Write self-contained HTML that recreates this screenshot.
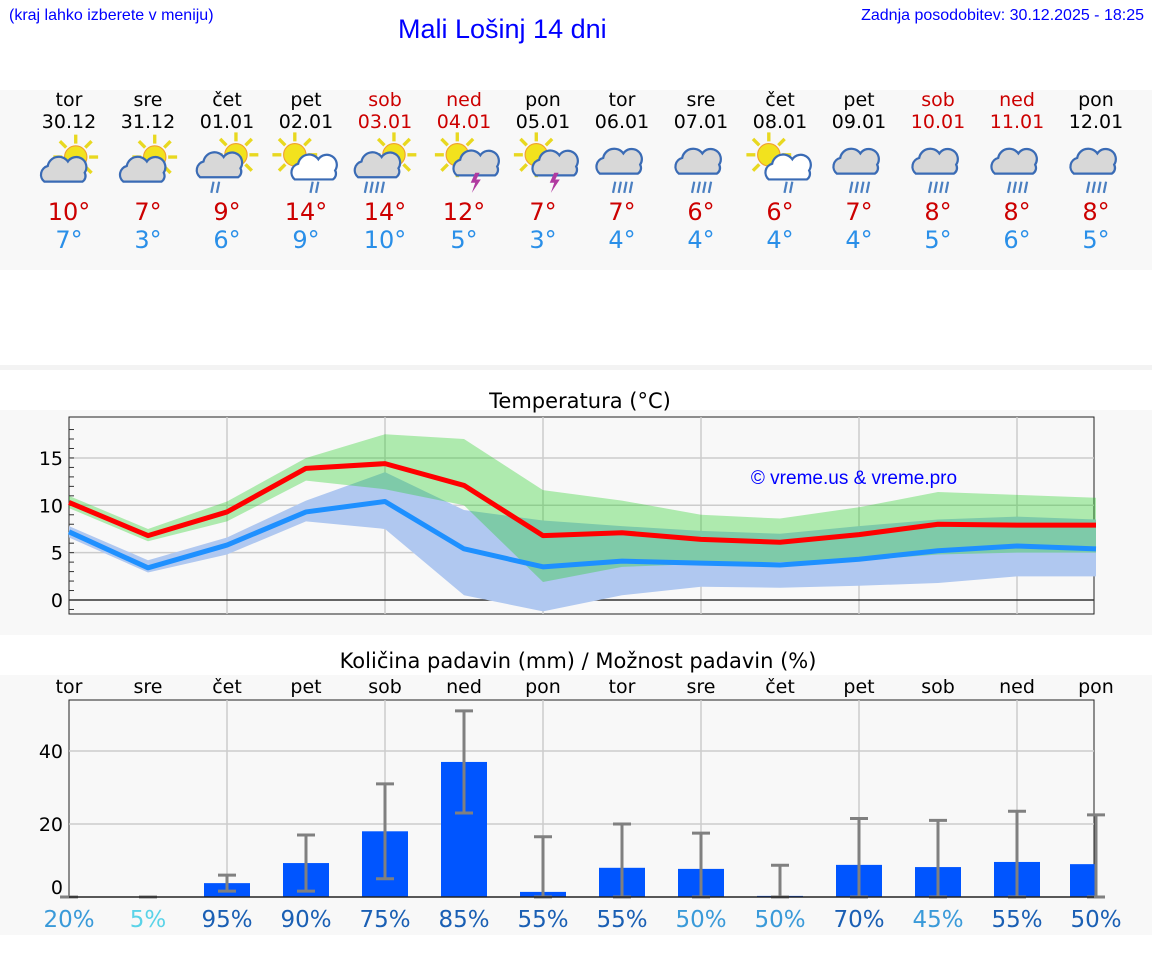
<!DOCTYPE html>
<html><head><meta charset="utf-8">
<style>
body{margin:0;width:1152px;height:975px;background:#fff;position:relative;overflow:hidden;font-family:"DejaVu Sans","Liberation Sans",sans-serif;}
.abs{position:absolute;}
.panel{position:absolute;left:0;width:1152px;background:#f8f8f8;}
.c{position:absolute;text-align:center;width:80px;margin-left:-40px;}
</style></head><body>
<div class="abs" style="left:9px;top:7px;font-size:16px;color:#0000ff;font-family:'Liberation Sans',sans-serif">(kraj lahko izberete v meniju)</div>
<div class="abs" style="left:398px;top:14px;font-size:27px;color:#0000ff;font-family:'Liberation Sans',sans-serif">Mali Lošinj 14 dni</div>
<div class="abs" style="right:8px;top:7px;font-size:16px;color:#0000ff;font-family:'Liberation Sans',sans-serif">Zadnja posodobitev: 30.12.2025 - 18:25</div>
<div class="panel" style="top:90px;height:180px"></div>
<div class="panel" style="top:365px;height:5px;background:#f3f3f3"></div>
<div class="panel" style="top:410px;height:225px"></div>
<div class="panel" style="top:675px;height:260px"></div>
<div id="days"></div>
<svg id="chart" class="abs" style="left:0;top:0" width="1152" height="975"></svg>
<script>
const days=["tor","sre","čet","pet","sob","ned","pon","tor","sre","čet","pet","sob","ned","pon"];
const dates=["30.12","31.12","01.01","02.01","03.01","04.01","05.01","06.01","07.01","08.01","09.01","10.01","11.01","12.01"];
const weekend=[0,0,0,0,1,1,0,0,0,0,0,1,1,0];
const icons=["sc","sc","scr","scr2","scr3","st","st","cr","cr","scr2","cr","cr","cr","cr"];
const maxLbl=[10,7,9,14,14,12,7,7,6,6,7,8,8,8];
const minLbl=[7,3,6,9,10,5,3,4,4,4,4,5,6,5];
const tMax=[10.3,6.8,9.3,13.9,14.4,12.1,6.8,7.1,6.4,6.1,6.9,8.0,7.9,7.9];
const tMin=[7.2,3.4,5.8,9.3,10.4,5.4,3.5,4.1,3.9,3.7,4.3,5.2,5.7,5.4];
const maxLo=[9.7,6.2,8.3,12.6,11.7,10.0,1.9,3.5,3.8,4.0,4.2,4.8,5.0,5.0];
const maxHi=[11.0,7.5,10.4,15.0,17.5,17.0,11.6,10.5,9.0,8.6,9.8,11.4,11.1,10.8];
const minLo=[6.6,2.9,4.8,8.3,7.5,0.5,-1.2,0.5,1.4,1.3,1.5,1.8,2.5,2.5];
const minHi=[7.8,4.2,6.6,10.5,13.5,9.5,8.4,7.8,7.3,7.0,7.8,8.5,8.8,8.5];
const rain=[0,0,3.8,9.3,18,37,1.4,8,7.7,0.3,8.8,8.2,9.6,9];
const rainLo=[0,0,1.6,1.6,5,23,0,0,0,0,0,0,0,0];
const rainHi=[0,0,6,17,31,51,16.5,20,17.5,8.7,21.5,21,23.5,22.5];
const prob=[20,5,95,90,75,85,55,55,50,50,70,45,55,50];
const probLevel=[1,0,2,2,2,2,2,2,1,1,2,1,2,2];
const tTicks=[0,5,10,15];
const rTicks=[0,20,40];

const X=i=>69+i*79;
const TY=v=>600-v*9.47;
const RY=v=>897-v*3.65;
const ns="http://www.w3.org/2000/svg";
const svg=document.getElementById('chart');
function mk(t,a,p){const e=document.createElementNS(ns,t);for(const k in a)e.setAttribute(k,a[k]);(p||svg).appendChild(e);return e;}
const D=document.getElementById('days');
function div(html,style,p){const d=document.createElement('div');d.className='c';d.innerHTML=html;d.style.cssText=style;(p||D).appendChild(d);return d;}

days.forEach((d,i)=>{
  const col=weekend[i]?'#cc0000':'#000';
  const a=div(d,`left:${X(i)}px;top:89px;font-size:19px;color:${col}`);
  
  
  const b=div(dates[i],`left:${X(i)}px;top:111px;font-size:19px;color:${col}`);
  
  
  const m=div(maxLbl[i]+'°',`left:${X(i)}px;top:198px;font-size:24px;color:#cc0000`);
  
  
  const n=div(minLbl[i]+'°',`left:${X(i)}px;top:226px;font-size:24px;color:#2a8fe8`);
  
  
  const g=mk('g',{transform:`translate(${X(i)},166) scale(1.12)`});
  
  
  const t=icons[i];
  const sun=(cx,cy)=>{for(let k=0;k<8;k++){const an=k*Math.PI/4;mk('line',{x1:cx+Math.cos(an)*12,y1:cy+Math.sin(an)*12,x2:cx+Math.cos(an)*20,y2:cy+Math.sin(an)*20,stroke:'#e8d820','stroke-width':3},g);}mk('circle',{cx,cy,r:10,fill:'#f2e21e',stroke:'#f0a030','stroke-width':1},g);};
  const cloud=(cx,cy,fill,s)=>{mk('path',{d:`M${cx-18*s},${cy+8*s} a8,8 0 0 1 3,-14 a10,10 0 0 1 18,-4 a9,9 0 0 1 15,10 a6,6 0 0 1 -2,8 z`,fill,stroke:'#3a6bb5','stroke-width':2},g);};
  const rainL=(cx,n)=>{for(let k=0;k<n;k++)mk('line',{x1:cx+k*5-n*2+2,y1:14,x2:cx+k*5-n*2,y2:24,stroke:'#4a7fc1','stroke-width':2},g);};
  if(t=='sc'){sun(6,-8);cloud(-4,6,'#d8d8d8',1);}
  else if(t=='scr'){sun(8,-10);cloud(-6,2,'#d8d8d8',1);rainL(-10,2);}
  else if(t=='scr2'){sun(-10,-10);cloud(8,4,'#fff',1);rainL(8,2);}
  else if(t=='scr3'){sun(8,-10);cloud(-6,2,'#d8d8d8',1);rainL(-10,4);}
  else if(t=='st'){sun(-6,-10);cloud(8,2,'#d8d8d8',0.8);mk('path',{d:'M10,6 l-4,9 h4 l-3,9 l8,-12 h-4 l3,-6z',fill:'#b03aa0'},g);}
  else {cloud(0,-2,'#d8d8d8',1.1);rainL(0,4);}
});

mk('text',{x:580,y:408,'font-size':21,'text-anchor':'middle',fill:'#000'}).textContent='Temperatura (°C)';
mk('rect',{x:69,y:417,width:1025,height:197,fill:'#f8f8f8',stroke:'#222','stroke-width':1});
for(let i=2;i<14;i+=2){mk('line',{x1:X(i),y1:417,x2:X(i),y2:614,stroke:'#ccc','stroke-width':1.5});}
tTicks.forEach(v=>{mk('line',{x1:69,y1:TY(v),x2:1094,y2:TY(v),stroke:v==0?'#333':'#ccc','stroke-width':1.5});
 const tx=mk('text',{x:63,y:TY(v)+7,'font-size':19,'text-anchor':'end'});tx.textContent=v;});
for(let v=-1;v<=18;v++){mk('line',{x1:69,y1:TY(v),x2:74,y2:TY(v),stroke:'#333'});}
function band(lo,hi,fill,op,name){let d='M';for(let i=0;i<14;i++)d+=`${X(i)},${TY(hi[i])} L`;for(let i=13;i>=0;i--)d+=`${X(i)},${TY(lo[i])} ${i?'L':'Z'}`;const p=mk('path',{d,fill,'fill-opacity':op});}
band(minLo,minHi,'#b0c8f0',1,'min-temp-range');
band(maxLo,maxHi,'#18ce18',0.33,'max-temp-range');
function line(a,c,name){const p=mk('polyline',{points:a.map((v,i)=>`${X(i)},${TY(v)}`).join(' '),fill:'none',stroke:c,'stroke-width':5,'stroke-linejoin':'round'});}
line(tMin,'#1e90ff','min-temp-line');
line(tMax,'#ff0000','max-temp-line');
mk('text',{x:854,y:484,'font-size':19,'text-anchor':'middle',fill:'#0000ff','font-family':'Liberation Sans,sans-serif'}).textContent='© vreme.us & vreme.pro';

mk('text',{x:578,y:668,'font-size':21,'text-anchor':'middle'}).textContent='Količina padavin (mm) / Možnost padavin (%)';
days.forEach((d,i)=>{const t=mk('text',{x:X(i),y:693,'font-size':19,'text-anchor':'middle'});t.textContent=d;});
mk('rect',{x:69,y:700,width:1025,height:197,fill:'#f8f8f8',stroke:'#222','stroke-width':1});
for(let i=2;i<14;i+=2){mk('line',{x1:X(i),y1:700,x2:X(i),y2:897,stroke:'#ccc','stroke-width':1.5});}
rTicks.forEach(v=>{if(v)mk('line',{x1:69,y1:RY(v),x2:1094,y2:RY(v),stroke:'#ccc','stroke-width':1.5});
 const tx=mk('text',{x:63,y:RY(v)+(v?7:-3),'font-size':19,'text-anchor':'end'});tx.textContent=v;});
const levelCols=['#5ad3e8','#3a9ad9','#1a5fb4'];
rain.forEach((v,i)=>{
  const r=mk('rect',{x:i==13?X(i)-26:X(i)-23,y:RY(v),width:i==13?26:46,height:Math.max(0,RY(0)-RY(v)),fill:'#0055ff'});
  
  
  const g=mk('g',{stroke:'#808080','stroke-width':3});
  
  
  mk('line',{x1:X(i),y1:RY(rainLo[i]),x2:X(i),y2:RY(rainHi[i])},g);
  mk('line',{x1:X(i)-9,y1:RY(rainHi[i]),x2:X(i)+9,y2:RY(rainHi[i])},g);
  mk('line',{x1:X(i)-9,y1:RY(rainLo[i]),x2:X(i)+9,y2:RY(rainLo[i])},g);
  const t=mk('text',{x:X(i),y:927,'font-size':23,'text-anchor':'middle',fill:levelCols[probLevel[i]]});
  t.textContent=prob[i]+'%';
  
  
});
mk('line',{x1:69,y1:897,x2:1094,y2:897,stroke:'#222','stroke-width':1.5});
</script>
</body></html>
